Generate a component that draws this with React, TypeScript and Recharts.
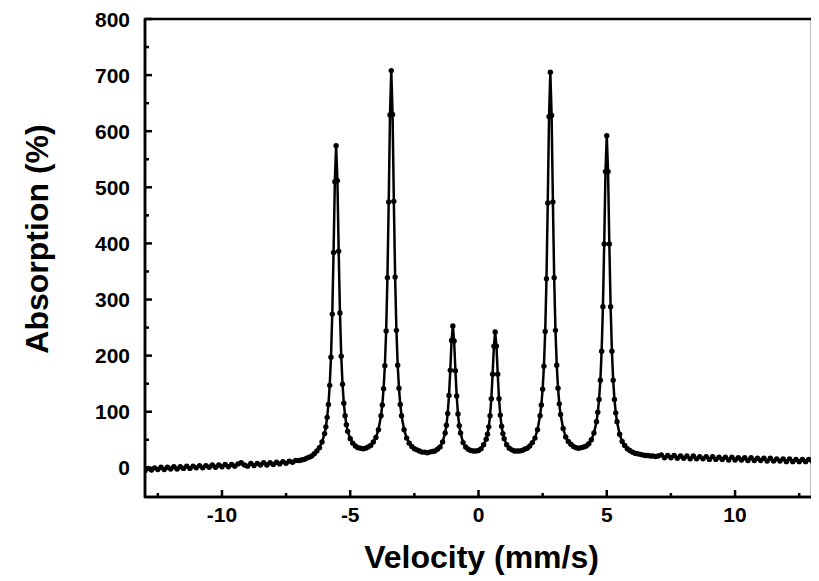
import React from 'react';
import { ComposedChart, Line, XAxis, YAxis, ReferenceArea } from 'recharts';

const velocity = [
  -13, -12.875, -12.75, -12.625, -12.5, -12.375, -12.25, -12.125, -12, -11.875, -11.75, -11.625,
  -11.5, -11.375, -11.25, -11.125, -11, -10.875, -10.75, -10.625, -10.5, -10.375, -10.25, -10.125,
  -10, -9.875, -9.75, -9.625, -9.5, -9.375, -9.25, -9.125, -9, -8.875, -8.75, -8.625,
  -8.5, -8.375, -8.25, -8.125, -8, -7.875, -7.75, -7.625, -7.5, -7.375, -7.25, -7.125,
  -7.0, -6.9, -6.8, -6.7, -6.6, -6.5, -6.4, -6.3, -6.2, -6.1, -6.0, -5.95, -5.9, -5.85,
  -5.8, -5.75, -5.7, -5.65, -5.6, -5.55, -5.5, -5.45, -5.4, -5.35, -5.3, -5.25, -5.2,
  -5.15, -5.1, -5.0, -4.9, -4.8, -4.7, -4.6, -4.5, -4.4, -4.3, -4.2, -4.1, -4.0, -3.9,
  -3.8, -3.75, -3.7, -3.65, -3.6, -3.55, -3.5, -3.45, -3.4, -3.35, -3.3, -3.25, -3.2,
  -3.15, -3.1, -3.05, -3.0, -2.9, -2.8, -2.7, -2.6, -2.5, -2.4, -2.3, -2.2, -2.1, -2.0,
  -1.9, -1.8, -1.7, -1.6, -1.5, -1.4, -1.3, -1.25, -1.2, -1.15, -1.1, -1.05, -1.0,
  -0.95, -0.9, -0.85, -0.8, -0.75, -0.7, -0.6, -0.5, -0.4, -0.3, -0.2, -0.1, 0.0,
  0.1, 0.2, 0.3, 0.35, 0.4, 0.45, 0.5, 0.55, 0.6, 0.65, 0.7, 0.75, 0.8, 0.85, 0.9,
  0.95, 1.0, 1.1, 1.2, 1.3, 1.4, 1.5, 1.6, 1.7, 1.8, 1.9, 2.0, 2.1, 2.2, 2.3, 2.4,
  2.45, 2.5, 2.55, 2.6, 2.65, 2.7, 2.75, 2.8, 2.85, 2.9, 2.95, 3.0, 3.05, 3.1, 3.15,
  3.2, 3.3, 3.4, 3.5, 3.6, 3.7, 3.8, 3.9, 4.0, 4.1, 4.2, 4.3, 4.4, 4.5, 4.6, 4.65,
  4.7, 4.75, 4.8, 4.85, 4.9, 4.95, 5.0, 5.05, 5.1, 5.15, 5.2, 5.25, 5.3, 5.35, 5.4,
  5.5, 5.6, 5.7, 5.8, 5.9, 6.0, 6.1, 6.2, 6.3, 6.4, 6.5, 6.6, 6.7, 6.8, 6.9, 7.0,
  7.125, 7.25, 7.375, 7.5, 7.625, 7.75, 7.875, 8.0, 8.125, 8.25, 8.375, 8.5,
  8.625, 8.75, 8.875, 9.0, 9.125, 9.25, 9.375, 9.5, 9.625, 9.75, 9.875, 10.0,
  10.125, 10.25, 10.375, 10.5, 10.625, 10.75, 10.875, 11.0, 11.125, 11.25, 11.375, 11.5,
  11.625, 11.75, 11.875, 12.0, 12.125, 12.25, 12.375, 12.5, 12.625, 12.75, 12.875, 13.0,
];

const absorption = [
  -5, -1, -4, 0, -3, 1, -3, 1, -2, 2, -2, 2,
  -1, 3, -1, 3, 0, 4, 0, 4, 1, 5, 1, 5,
  2, 6, 2, 6, 3, 7, 9, 5, 3, 8, 4, 8,
  5, 9, 5, 9, 6, 10, 7, 11, 8, 12, 10, 13,
  13, 14, 15, 17, 19, 21, 25, 30, 36, 46, 61, 73, 90, 113,
  147, 197, 274, 384, 510, 574, 512, 386, 276, 199, 149, 115, 93,
  77, 65, 52, 44, 39, 36, 35, 34, 35, 37, 40, 46, 54, 68,
  93, 112, 141, 182, 244, 339, 474, 629, 708, 630, 475, 340, 245,
  183, 142, 113, 93, 68, 53, 44, 38, 34, 32, 30, 28, 28, 27,
  28, 29, 30, 33, 37, 46, 62, 76, 97, 129, 174, 227, 253,
  226, 173, 128, 96, 75, 62, 45, 37, 33, 31, 30, 30, 31,
  34, 41, 51, 60, 73, 93, 123, 167, 217, 242, 217, 167, 123, 94, 74,
  61, 52, 41, 35, 32, 30, 30, 30, 31, 33, 35, 39, 45, 53, 68, 93,
  112, 140, 181, 243, 337, 472, 626, 705, 628, 474, 339, 245, 183, 142, 114,
  95, 70, 55, 47, 42, 38, 36, 35, 36, 37, 39, 43, 50, 62, 82, 99,
  122, 156, 208, 287, 399, 528, 592, 528, 399, 287, 208, 156, 122, 98, 82,
  60, 47, 40, 34, 31, 28, 26, 25, 24, 23, 22, 22, 21, 21, 20, 21,
  23, 18, 22, 18, 22, 17, 21, 17, 21, 16, 21, 16,
  20, 16, 20, 15, 20, 15, 19, 15, 19, 14, 19, 14,
  18, 14, 18, 13, 18, 13, 17, 13, 17, 12, 17, 12,
  16, 12, 16, 11, 16, 11, 15, 11, 15, 11, 15, 12,
];

const xTicks = [-12.5, -10, -7.5, -5, -2.5, 0, 2.5, 5, 7.5, 10, 12.5];
const yTicks = [0, 50, 100, 150, 200, 250, 300, 350, 400, 450, 500, 550, 600, 650, 700, 750, 800];
const xDomain: [number, number] = [-13, 13];
const yDomain: [number, number] = [-52, 800];

const data = velocity.map((v, i) => ({ v, a: absorption[i] }));

const FONT = '"Liberation Sans", Arial, Helvetica, sans-serif';

const XTick = (props: any) => {
  const { x, y, payload } = props;
  const v = payload.value;
  const major = Math.abs(v % 5) < 1e-6;
  return (
    <g>
      <line x1={x} x2={x} y1={y} y2={y - (major ? 7 : 4)} stroke="#000" strokeWidth={2.5} />
      {major && (
        <text x={x} y={y + 25} textAnchor="middle" fontFamily={FONT} fontWeight={700} fontSize={21} fill="#000">
          {v}
        </text>
      )}
    </g>
  );
};

const YTick = (props: any) => {
  const { x, y, payload } = props;
  const v = payload.value;
  const major = Math.abs(v % 100) < 1e-6;
  return (
    <g>
      <line x1={x} x2={x + (major ? 7 : 4)} y1={y} y2={y} stroke="#000" strokeWidth={2.5} />
      {major && (
        <text x={x - 15} y={y + 7.5} textAnchor="end" fontFamily={FONT} fontWeight={700} fontSize={21} fill="#000">
          {v}
        </text>
      )}
    </g>
  );
};

const XTitle = (p: any) => {
  const vb = p.viewBox;
  return (
    <text x={vb.x + vb.width / 2 + 3} y={vb.y + 71} textAnchor="middle" fontFamily={FONT} fontWeight={700} fontSize={32} fill="#000">
      Velocity (mm/s)
    </text>
  );
};

const YTitle = (p: any) => {
  const vb = p.viewBox;
  const cx = vb.x + 40;
  const cy = vb.y + vb.height / 2 - 19;
  return (
    <text x={cx} y={cy} transform={`rotate(-90, ${cx}, ${cy})`} textAnchor="middle" fontFamily={FONT} fontWeight={700} fontSize={32} fill="#000">
      Absorption (%)
    </text>
  );
};

export default function App() {
  return (
    <div style={{ width: 811, height: 573, background: '#fff' }}>
      <ComposedChart width={811} height={573} data={data} margin={{ top: 11, right: 7, bottom: 0, left: 0 }}>
        <XAxis
          type="number"
          dataKey="v"
          domain={xDomain}
          ticks={xTicks}
          interval={0}
          allowDataOverflow
          tickSize={0}
          tickMargin={0}
          tick={<XTick />}
          tickLine={false}
          axisLine={{ stroke: '#000', strokeWidth: 2.5 }}
          height={84}
          label={{ content: <XTitle /> } as any}
        />
        <YAxis
          type="number"
          domain={yDomain}
          ticks={yTicks}
          interval={0}
          allowDataOverflow
          tickSize={0}
          tickMargin={0}
          tick={<YTick />}
          tickLine={false}
          axisLine={{ stroke: '#000', strokeWidth: 2.5 }}
          width={137}
          label={{ content: <YTitle /> } as any}
        />
        <ReferenceArea x1={xDomain[0]} x2={xDomain[1]} y1={yDomain[0]} y2={yDomain[1]} fill="none" stroke="#000" strokeWidth={2.5} />
        <Line
          type="linear"
          dataKey="a"
          stroke="#000"
          strokeWidth={2.5}
          dot={{ r: 2.7, fill: '#000', stroke: 'none' }}
          isAnimationActive={false}
        />
      </ComposedChart>
    </div>
  );
}
